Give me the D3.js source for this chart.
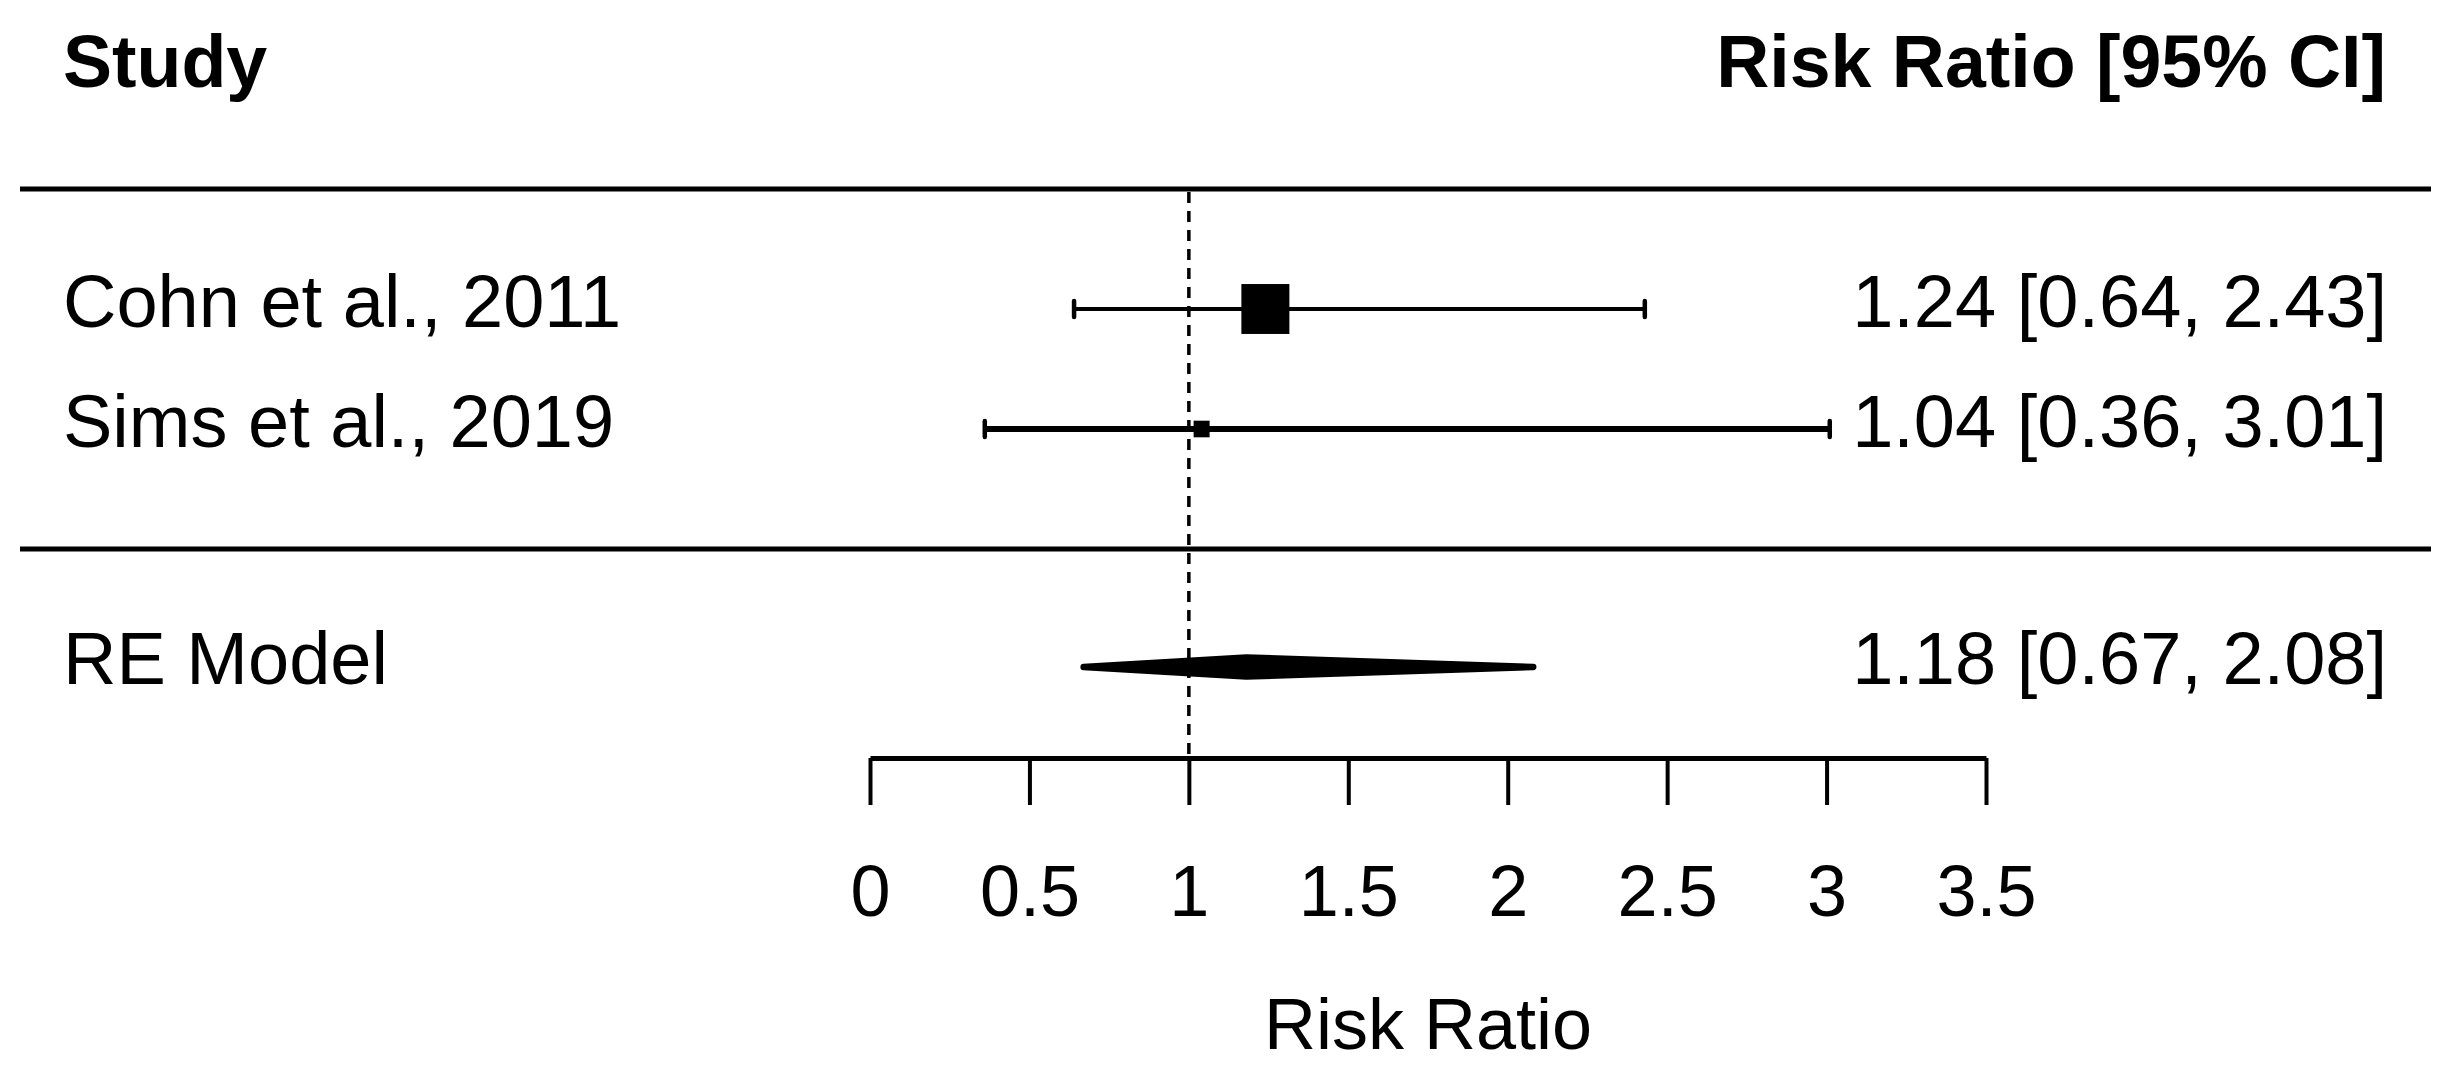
<!DOCTYPE html>
<html>
<head>
<meta charset="utf-8">
<script src="https://cdn.jsdelivr.net/npm/d3@7"></script>
<style>
  html, body { margin: 0; padding: 0; background: #fff; }
  svg { display: block; }
  text { font-family: "Liberation Sans", Arial, Helvetica, sans-serif; fill: #000; }
</style>
</head>
<body>
<svg id="chart" width="2444" height="1067"></svg>
<script>
// ---- data ----
const studies = ["Cohn et al., 2011", "Sims et al., 2019"];
const estimates = [1.24, 1.04];
const lowerCI = [0.64, 0.36];
const upperCI = [2.43, 3.01];
const weights = [71.7, 28.3];          // relative study weights (%)
const summaryLabel = "RE Model";
const summary = { est: 1.18, lower: 0.67, upper: 2.08 };
const tickValues = [0, 0.5, 1, 1.5, 2, 2.5, 3, 3.5];
const headerLeft = "Study";
const headerRight = "Risk Ratio [95% CI]";
const xLabel = "Risk Ratio";
const refValue = 1;

// ---- layout ----
const W = 2444, H = 1067;
const svg = d3.select("#chart");
svg.append("rect").attr("width", W).attr("height", H).attr("fill", "#fff");

const x = d3.scaleLinear().domain([0, 3.5]).range([870, 1986]);
// row index -> pixel (k=2 studies: rows 2,1; separator 0; summary -1; header k+2; top line k+1)
const y = d3.scaleLinear().domain([0, 1]).range([549, 429]);
const k = studies.length;
const axisY = 758;
const fs = 74;
const fsAxis = 72;
const leftX = 63, rightX = 2387;
const lineX0 = 20, lineX1 = 2431;
const fmt = d3.format(".2f");

const size = d3.scaleLinear().domain(d3.extent(weights)).range([16, 48]);

// horizontal rule lines
[k + 1, 0].forEach(r => {
  svg.append("line")
    .attr("x1", lineX0).attr("x2", lineX1)
    .attr("y1", y(r)).attr("y2", y(r))
    .attr("stroke", "#000").attr("stroke-width", 5);
});

// reference dashed line
svg.append("line")
  .attr("x1", x(refValue)).attr("x2", x(refValue))
  .attr("y1", y(k + 1) + 3).attr("y2", axisY)
  .attr("stroke", "#000").attr("stroke-width", 3.5)
  .attr("stroke-dasharray", "11,8");

// headers
svg.append("text").attr("x", leftX).attr("y", y(k + 2) + 18)
  .attr("font-size", 73.5).attr("font-weight", "bold").text(headerLeft);
svg.append("text").attr("x", rightX - 1).attr("y", y(k + 2) + 18)
  .attr("font-size", 73.5).attr("font-weight", "bold").attr("text-anchor", "end").text(headerRight);

// study rows
const rows = studies.map((s, i) => ({
  name: s, est: estimates[i], lo: lowerCI[i], hi: upperCI[i], w: weights[i], row: k - i
}));
const lineW = [4, 6];
const g = svg.append("g");
rows.forEach((d, i) => {
  const cy = y(d.row);
  g.append("line")
    .attr("x1", x(d.lo)).attr("x2", x(d.hi)).attr("y1", cy).attr("y2", cy)
    .attr("stroke", "#000").attr("stroke-width", lineW[i]);
  [d.lo, d.hi].forEach(v => {
    g.append("line")
      .attr("x1", x(v)).attr("x2", x(v)).attr("y1", cy - 8).attr("y2", cy + 8)
      .attr("stroke", "#000").attr("stroke-width", 4.5).attr("stroke-linecap", "round");
  });
  const s = size(d.w);
  g.append("rect")
    .attr("x", x(d.est) - s / 2).attr("y", cy - s * 0.52)
    .attr("width", s).attr("height", s * 1.04).attr("fill", "#000");
  g.append("text").attr("x", leftX).attr("y", cy + 18).attr("font-size", fs).text(d.name);
  g.append("text").attr("x", rightX).attr("y", cy + 18).attr("font-size", fs)
    .attr("text-anchor", "end")
    .text(`${fmt(d.est)} [${fmt(d.lo)}, ${fmt(d.hi)}]`);
});

// summary diamond
const sy = y(-1) - 2;
const dh = 9.5;
svg.append("polygon")
  .attr("points", [
    [x(summary.lower), sy], [x(summary.est), sy - dh],
    [x(summary.upper), sy], [x(summary.est), sy + dh]
  ].map(p => p.join(",")).join(" "))
  .attr("fill", "#000").attr("stroke", "#000").attr("stroke-width", 6.5)
  .attr("stroke-linejoin", "round");
svg.append("text").attr("x", leftX).attr("y", sy + 17).attr("font-size", fs).text(summaryLabel);
svg.append("text").attr("x", rightX).attr("y", sy + 17).attr("font-size", fs)
  .attr("text-anchor", "end")
  .text(`${fmt(summary.est)} [${fmt(summary.lower)}, ${fmt(summary.upper)}]`);

// x axis
const axis = d3.axisBottom(x).tickValues(tickValues).tickSize(47).tickSizeOuter(0)
  .tickPadding(60).tickFormat(d3.format("~g"));
const ag = svg.append("g").attr("transform", `translate(0,${axisY})`).call(axis);
ag.attr("font-family", null).attr("font-size", null);
ag.select(".domain").attr("stroke", "#000").attr("stroke-width", 5);
ag.selectAll(".tick line").attr("stroke", "#000").attr("stroke-width", 4);
ag.selectAll(".tick text").attr("font-size", fsAxis).attr("fill", "#000")
  .style("font-family", '"Liberation Sans", Arial, sans-serif');

// axis label
svg.append("text").attr("x", (x.range()[0] + x.range()[1]) / 2).attr("y", 1049)
  .attr("font-size", fsAxis).attr("text-anchor", "middle").text(xLabel);
</script>
</body>
</html>
